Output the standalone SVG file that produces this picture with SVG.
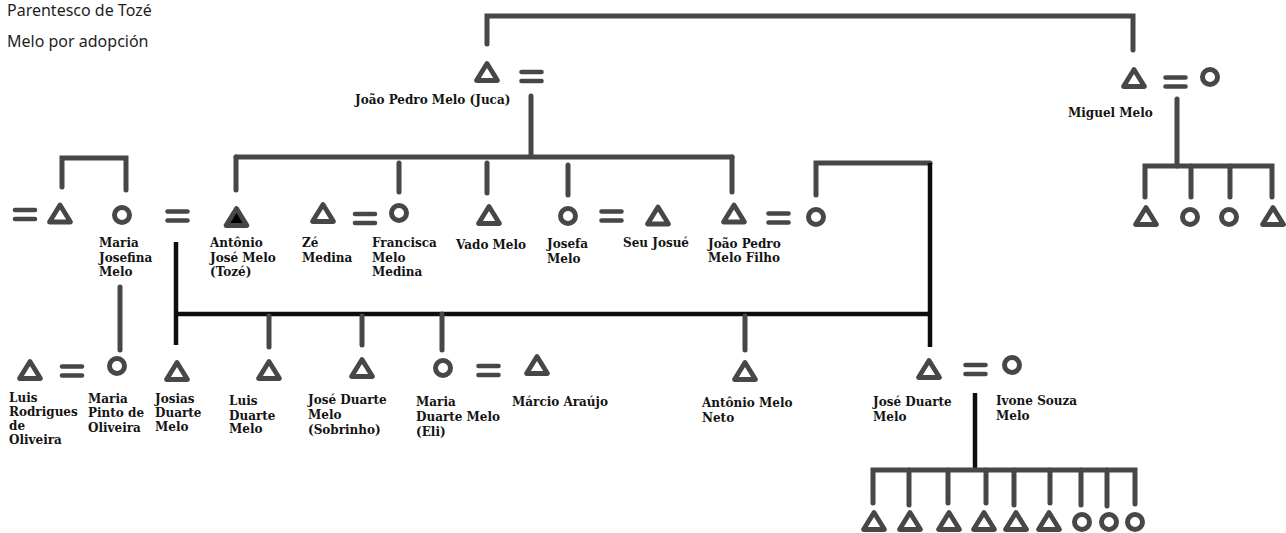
<svg xmlns="http://www.w3.org/2000/svg" xmlns:xlink="http://www.w3.org/1999/xlink" width="1286" height="533" viewBox="0 0 1286 533">
<style>
.ln{fill:none;stroke:#474747;stroke-width:5;stroke-linecap:round;stroke-linejoin:miter}
.lk{fill:none;stroke:#0d0d0d;stroke-width:4.5;stroke-linecap:butt;stroke-linejoin:miter}
.lb{font-family:"DejaVu Serif","Liberation Serif",serif;font-weight:bold;font-size:12px;fill:#141414}
.title{font-family:"Noto Sans","Liberation Sans",sans-serif;font-size:16px;fill:#1e1e1e}
</style>
<defs>
<g id="tri"><path d="M0,-8.5 L10.5,8.5 L-10.5,8.5 Z" fill="#fff" stroke="#474747" stroke-width="4.8" stroke-linejoin="round"/></g>
<g id="trif"><path d="M0,-8.5 L10.5,8.5 L-10.5,8.5 Z" fill="#000" stroke="#474747" stroke-width="4.8" stroke-linejoin="round"/></g>
<g id="cir"><circle r="7.5" fill="#fff" stroke="#474747" stroke-width="5"/></g>
<g id="eq"><path d="M-10,-4.5 H10 M-10,4.5 H10" fill="none" stroke="#474747" stroke-width="4.6" stroke-linecap="round"/></g>
</defs>
<rect width="1286" height="533" fill="#fff"/>

<g id="title">
<text class="title" x="7" y="16">Parentesco de Tozé</text>
<text class="title" x="7" y="47">Melo por adopción</text>
</g>

<g id="connectors">
<path class="ln" d="M487,44 V16 H1133 V50"/>
<path class="ln" d="M531,96 V156"/>
<path class="ln" d="M236,157 H732"/>
<path class="ln" d="M236,157 V190"/>
<path class="ln" d="M399,163 V192"/>
<path class="ln" d="M487,163 V193"/>
<path class="ln" d="M568,165 V195"/>
<path class="ln" d="M732,157 V192"/>
<path class="ln" d="M62,187 V158 H126 V190"/>
<path class="ln" d="M120,287 V350"/>
<path class="lk" d="M176,242 V345"/>
<path class="lk" d="M176,314 H930"/>
<path class="ln" d="M816,195 V163 H930"/>
<path class="lk" d="M930,163 V347"/>
<path class="ln" d="M269,316 V347"/>
<path class="ln" d="M362,316 V345"/>
<path class="ln" d="M442,314 V350"/>
<path class="ln" d="M745,316 V350"/>
<path class="ln" d="M1177,99 V166"/>
<path class="ln" d="M1145,197 V166 H1272 V197"/>
<path class="ln" d="M1191,166 V197"/>
<path class="ln" d="M1230,166 V197"/>
<path class="lk" d="M975,393 V470"/>
<path class="ln" d="M873,503 V470 H1135 V504"/>
<path class="ln" d="M909,470 V505"/>
<path class="ln" d="M948,470 V503"/>
<path class="ln" d="M986,470 V503"/>
<path class="ln" d="M1014,470 V505"/>
<path class="ln" d="M1050,470 V503"/>
<path class="ln" d="M1081,470 V505"/>
<path class="ln" d="M1107,470 V506"/>
</g>

<g id="juca">
<use href="#tri" x="487" y="72"/>
<use href="#eq" x="531.5" y="76.5"/>
<text class="lb" x="355" y="104">João Pedro Melo (Juca)</text>
</g>

<g id="miguel">
<use href="#tri" x="1134" y="78"/>
<use href="#eq" x="1175.5" y="82"/>
<use href="#cir" x="1210" y="77"/>
<text class="lb" x="1068" y="117">Miguel Melo</text>
</g>

<g id="miguel-children">
<use href="#tri" x="1146" y="216"/>
<use href="#cir" x="1190" y="217"/>
<use href="#cir" x="1229" y="217"/>
<use href="#tri" x="1273" y="216"/>
</g>

<g id="mj-father">
<use href="#eq" x="25" y="214.5"/>
<use href="#tri" x="60" y="213.5"/>
</g>

<g id="maria-josefina">
<use href="#cir" x="122" y="215"/>
<use href="#eq" x="177.5" y="216"/>
<text class="lb" x="99" y="247">Maria<tspan x="99" y="262">Josefina</tspan><tspan x="99" y="276">Melo</tspan></text>
</g>

<g id="toze">
<use href="#trif" x="236.5" y="217"/>
<text class="lb" x="210" y="247">Antônio<tspan x="210" y="262">José Melo</tspan><tspan x="210" y="276">(Tozé)</tspan></text>
</g>

<g id="ze-medina">
<use href="#tri" x="323" y="213"/>
<use href="#eq" x="365" y="218.5"/>
<text class="lb" x="302" y="247">Zé<tspan x="302" y="262">Medina</tspan></text>
</g>

<g id="francisca">
<use href="#cir" x="399" y="213"/>
<text class="lb" x="372" y="247">Francisca<tspan x="372" y="262">Melo</tspan><tspan x="372" y="276">Medina</tspan></text>
</g>

<g id="vado">
<use href="#tri" x="489" y="215"/>
<text class="lb" x="456" y="249">Vado Melo</text>
</g>

<g id="josefa">
<use href="#cir" x="568" y="216"/>
<use href="#eq" x="611.5" y="216"/>
<text class="lb" x="547" y="248">Josefa<tspan x="547" y="263">Melo</tspan></text>
</g>

<g id="seu-josue">
<use href="#tri" x="658" y="215.5"/>
<text class="lb" x="623" y="247">Seu Josué</text>
</g>

<g id="joao-filho">
<use href="#tri" x="734" y="213.5"/>
<use href="#eq" x="778.5" y="218"/>
<use href="#cir" x="816" y="217"/>
<text class="lb" x="708" y="248">João Pedro<tspan x="708" y="262">Melo Filho</tspan></text>
</g>

<g id="luis-rodrigues">
<use href="#tri" x="30" y="370"/>
<use href="#eq" x="72" y="371"/>
<text class="lb" x="9" y="402">Luis<tspan x="9" y="416">Rodrigues</tspan><tspan x="9" y="430">de</tspan><tspan x="9" y="444">Oliveira</tspan></text>
</g>

<g id="maria-pinto">
<use href="#cir" x="117" y="366"/>
<text class="lb" x="88" y="403">Maria<tspan x="88" y="417">Pinto de</tspan><tspan x="88" y="432">Oliveira</tspan></text>
</g>

<g id="josias">
<use href="#tri" x="177" y="371"/>
<text class="lb" x="155" y="403">Josias<tspan x="155" y="417">Duarte</tspan><tspan x="155" y="431">Melo</tspan></text>
</g>

<g id="luis-duarte">
<use href="#tri" x="269" y="370"/>
<text class="lb" x="229" y="405">Luis<tspan x="229" y="420">Duarte</tspan><tspan x="229" y="433">Melo</tspan></text>
</g>

<g id="jose-sobrinho">
<use href="#tri" x="362" y="368"/>
<text class="lb" x="308" y="404">José Duarte<tspan x="308" y="419">Melo</tspan><tspan x="308" y="434">(Sobrinho)</tspan></text>
</g>

<g id="maria-duarte">
<use href="#cir" x="443" y="368"/>
<use href="#eq" x="488.5" y="370.5"/>
<text class="lb" x="416" y="406">Maria<tspan x="416" y="421">Duarte Melo</tspan><tspan x="416" y="436">(Eli)</tspan></text>
</g>

<g id="marcio">
<use href="#tri" x="537" y="365"/>
<text class="lb" x="512" y="406">Márcio Araújo</text>
</g>

<g id="antonio-neto">
<use href="#tri" x="745" y="371"/>
<text class="lb" x="702" y="407">Antônio Melo<tspan x="702" y="422">Neto</tspan></text>
</g>

<g id="jose-duarte">
<use href="#tri" x="929" y="369"/>
<use href="#eq" x="975.5" y="369.5"/>
<text class="lb" x="873" y="406">José Duarte<tspan x="873" y="421">Melo</tspan></text>
</g>

<g id="ivone">
<use href="#cir" x="1012" y="365"/>
<text class="lb" x="996" y="405">Ivone Souza<tspan x="996" y="420">Melo</tspan></text>
</g>

<g id="jose-duarte-children">
<use href="#tri" x="874" y="521"/>
<use href="#tri" x="910" y="521"/>
<use href="#tri" x="949" y="521"/>
<use href="#tri" x="984" y="521"/>
<use href="#tri" x="1016" y="521"/>
<use href="#tri" x="1049" y="521"/>
<use href="#cir" x="1082" y="522"/>
<use href="#cir" x="1109" y="522"/>
<use href="#cir" x="1135" y="522"/>
</g>
</svg>
